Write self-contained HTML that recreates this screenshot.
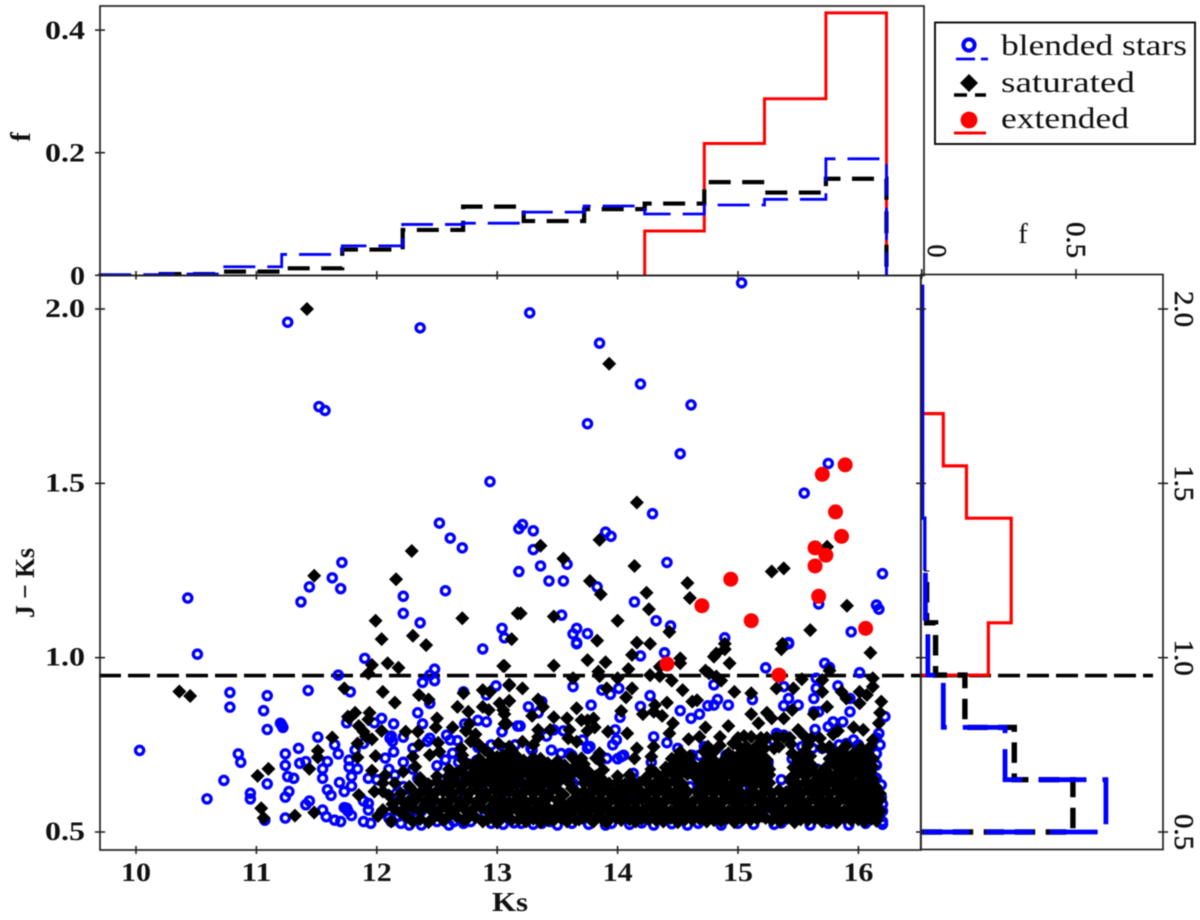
<!DOCTYPE html>
<html lang="en">
<head>
<meta charset="utf-8">
<title>Ks vs J-Ks scatter with marginal histograms</title>
<style>
html,body{margin:0;padding:0;background:#fff;}
#chart{display:block;width:1200px;height:920px;filter:blur(0.45px);}
text{font-family:"Liberation Serif",serif;fill:#111;}
</style>
</head>
<body>
<svg id="chart" xmlns="http://www.w3.org/2000/svg" width="1200" height="920" viewBox="0 0 1200 920">
  <rect x="0" y="0" width="1200" height="920" fill="#fff"/>
  <g id="threshold"></g>
  <g id="blended"></g>
  <g id="saturated"></g>
  <g id="extended"></g>
  <g id="topHist"></g>
  <g id="rightHist"></g>
  <rect x="100" y="6" width="824" height="269.5" fill="none" stroke="#222" stroke-width="1.7"/>
  <rect x="100" y="275.5" width="820.7" height="574.5" fill="none" stroke="#222" stroke-width="1.7"/>
  <rect x="921" y="274.5" width="242" height="575" fill="none" stroke="#222" stroke-width="1.7"/>
  <g id="axes"></g>
  <text x="510" y="911" text-anchor="middle" font-size="27" font-weight="bold" textLength="36" lengthAdjust="spacingAndGlyphs">Ks</text>
  <text transform="translate(34,583) rotate(-90)" text-anchor="middle" font-size="27" font-weight="bold" textLength="70" lengthAdjust="spacingAndGlyphs">J − Ks</text>
  <text transform="translate(30,137) rotate(-90)" text-anchor="middle" font-size="28" font-weight="bold">f</text>
  <text x="1023" y="243" text-anchor="middle" font-size="29">f</text>
  <g>
    <rect x="935" y="22.5" width="260" height="121.5" fill="#fff" stroke="#111" stroke-width="2"/>
    <circle cx="969" cy="45" r="5.6" fill="none" stroke="#0000ff" stroke-width="4"/>
    <line x1="956" y1="59" x2="988" y2="59" stroke="#0000ff" stroke-width="2.8" stroke-dasharray="19 6"/>
    <text x="1001" y="55" font-size="30" textLength="186" lengthAdjust="spacingAndGlyphs">blended stars</text>
    <polygon points="969,74 978,83 969,92 960,83" fill="#000"/>
    <line x1="954" y1="95" x2="986" y2="95" stroke="#000" stroke-width="3.5" stroke-dasharray="13 8"/>
    <text x="1001" y="92" font-size="30" textLength="134" lengthAdjust="spacingAndGlyphs">saturated</text>
    <circle cx="969" cy="120" r="8.4" fill="#ff0000"/>
    <line x1="954" y1="133" x2="986" y2="133" stroke="#ff0000" stroke-width="3"/>
    <text x="1001" y="128" font-size="30" textLength="128" lengthAdjust="spacingAndGlyphs">extended</text>
  </g>
</svg>
<script>
// ---- Data ----
const ksTicks = [10, 11, 12, 13, 14, 15, 16];
const ksTickLabels = ['10', '11', '12', '13', '14', '15', '16'];
const colorTicks = [0.5, 1.0, 1.5, 2.0];
const colorTickLabels = ['0.5', '1.0', '1.5', '2.0'];
const topFTicks = [0, 0.2, 0.4];
const topFTickLabels = ['0', '0.2', '0.4'];
const rightFTicks = [0, 0.5];
const rightFTickLabels = ['0', '0.5'];
const colorCut = [0.95];

const ksBinEdges = [9.70, 10.205, 10.708, 11.21, 11.713, 12.215, 12.717, 13.22, 13.722, 14.225, 14.72, 15.22, 15.73, 16.233];
const topBlended = [0.001, 0.002, 0.014, 0.034, 0.048, 0.083, 0.085, 0.103, 0.113, 0.1, 0.1147, 0.124, 0.19];
const topSaturated = [0, 0.002, 0.006, 0.0114, 0.042, 0.074, 0.112, 0.0885, 0.108, 0.117, 0.152, 0.135, 0.1575];
const topExtended = [0, 0, 0, 0, 0, 0, 0, 0, 0, 0.0723, 0.215, 0.288, 0.428];

const colorBinEdges = [0.5, 0.65, 0.8, 0.95, 1.1, 1.25, 1.4, 1.55, 1.7, 1.85, 2.0, 2.07];
const rightBlended = [0.597, 0.27, 0.07, 0.02, 0.012];
const rightBlendedTail = [0.01, 0.003, 0.003, 0.003, 0.003, 0.003];
const rightSaturated = [0.49, 0.30, 0.14, 0.045, 0.016];
const rightExtended = [0, 0, 0, 0.216, 0.29, 0.29, 0.145, 0.07, 0, 0, 0];

const extendedPoints = [[15.89,1.553],[15.70,1.526],[15.81,1.418],[15.86,1.348],[15.64,1.315],[15.73,1.294],[15.64,1.263],[14.94,1.225],[15.67,1.176],[14.70,1.149],[15.11,1.106],[16.06,1.084],[14.41,0.982],[15.34,0.95]];

const blendedPoints = [
[11.26,1.962],[12.36,1.946],[11.52,1.72],[11.57,1.709],[10.43,1.171],[12.94,1.505],[12.52,1.386],[12.61,1.343],[12.71,1.315],[11.71,1.273],[11.63,1.229],[11.70,1.198],[11.44,1.203],[11.37,1.16],[12.57,1.192],[12.22,1.176],[12.22,1.127],[12.36,1.10],[13.04,1.084],[13.06,1.057],
[13.27,1.989],[13.85,1.902],[14.19,1.785],[13.75,1.671],[14.61,1.725],[15.03,2.075],[14.52,1.585],[15.75,1.557],[15.55,1.472],[14.29,1.413],[13.21,1.382],[13.18,1.37],[13.30,1.364],[13.30,1.31],[13.18,1.247],[13.36,1.263],[13.58,1.268],[13.43,1.22],[13.55,1.22],[13.90,1.36],[13.945,1.348],[14.41,1.273],[13.83,1.203],[14.14,1.16],[14.32,1.106],[14.44,1.091],[13.535,1.122],[13.66,1.084],[13.63,1.068],[13.75,1.069],[13.66,1.043],[14.89,1.057],[15.42,1.043],[15.94,1.074],[16.15,1.151],[16.17,1.139],[16.20,1.241],[15.67,1.154],
[10.51,1.01],[10.03,0.734],[10.78,0.90],[10.78,0.858],[11.09,0.891],[11.06,0.848],[11.09,0.794],[11.21,0.807],[11.22,0.80],[11.20,0.812],[11.43,0.906],[10.85,0.724],[10.87,0.70],[10.73,0.648],[10.59,0.595],[11.35,0.74],[11.51,0.772],[11.24,0.724],[11.24,0.691],[11.36,0.697],[11.41,0.702],[11.65,0.75],[11.68,0.724],[11.59,0.702],[11.55,0.681],[11.55,0.654],[11.26,0.659],[11.31,0.654],[11.77,0.706],[11.77,0.686],[11.84,0.681],[11.79,0.659],[11.79,0.632],[11.69,0.642],[11.73,0.616],[11.59,0.621],[11.62,0.605],[10.95,0.611],[10.95,0.595],[11.09,0.638],[11.27,0.616],[11.24,0.60],[11.44,0.589],[11.41,0.578],[11.55,0.563],[11.58,0.544],[11.65,0.534],[11.70,0.53],[11.79,0.547],[11.75,0.568],[11.76,0.56],[11.73,0.57],[11.89,0.53],[11.95,0.525],[11.07,0.534],[11.24,0.54],[11.93,0.563],[11.93,0.582],[11.89,0.589],[11.78,0.902],[11.68,0.95],[11.90,0.998],[12.48,0.967],[12.44,0.95],[12.38,0.929],[12.48,0.934],[12.44,0.869],[12.34,0.842],[12.04,0.826],[12.14,0.81],[12.38,0.81],[11.75,0.813],[11.98,0.813],[12.44,0.769],[12.11,0.769],[12.12,0.775],[12.13,0.76],[12.22,0.772],[12.14,0.73],[12.07,0.712],[11.82,0.735],[11.89,0.754],[12.10,0.68],[11.93,0.654],[12.0,0.65],[12.15,0.663],[12.88,1.025],[12.99,0.919],[12.72,0.902],[12.91,0.893],[12.91,0.816],[12.84,0.82],[12.73,0.81],[13.04,0.788],[13.17,0.804],[12.58,0.778],[12.67,0.762],[12.61,0.764],[12.84,0.743],[12.95,0.75],[13.06,0.74],[13.07,0.735],[13.15,0.75],[12.57,0.707],[12.63,0.726],[12.68,0.70],[12.76,0.695],[12.83,0.705],[12.34,0.654],[12.53,0.65],[12.16,0.61],[12.12,0.53],[12.10,0.54],[12.18,0.545],[12.2,0.525],[12.27,0.52],[12.37,0.52],[12.6,0.52],[12.64,0.53],[12.72,0.525],[12.47,0.56],[12.51,0.58],[12.37,0.56],
[13.66,1.04],[14.39,1.014],[14.19,1.005],[15.42,1.04],[15.23,0.971],[15.72,0.984],[15.76,0.972],[16.01,0.957],[15.83,0.919],[15.65,0.941],[15.65,0.912],[15.63,0.883],[15.38,0.917],[15.42,0.883],[15.38,0.862],[15.50,0.864],[14.80,0.922],[13.63,0.917],[13.87,0.907],[13.94,0.895],[14.01,0.912],[14.27,0.891],[14.19,0.86],[13.78,0.864],[14.52,0.848],[14.61,0.826],[14.68,0.838],[14.75,0.862],[14.80,0.864],[14.83,0.88],[14.92,0.864],[13.26,0.859],[13.34,0.842],[13.37,0.874],[14.02,0.829],[15.12,0.88],[13.19,0.804],[13.04,0.788],[13.55,0.79],[13.41,0.775],[13.47,0.793],[13.98,0.793],[13.99,0.764],[13.71,0.764],[14.30,0.773],[14.41,0.756],[15.64,0.794],[15.79,0.816],[15.87,0.816],[15.93,0.845],[15.93,0.883],[15.67,0.845],[15.63,0.845],[16.22,0.831],[16.17,0.783],[15.75,0.802],[15.32,0.783],[15.38,0.778],[15.24,0.75],[15.53,0.745],[15.90,0.754],[15.96,0.764],[16.0,0.75],[15.94,0.735],[13.15,0.75],[13.06,0.74],[13.29,0.735],[13.28,0.74],[13.45,0.735],[13.53,0.725],[13.60,0.725],[13.77,0.745],[13.75,0.74],[14.03,0.716],[14.05,0.72],[14.0,0.71],[13.91,0.711],[14.13,0.668],[16.15,0.725],[16.15,0.692],[16.15,0.654],[16.19,0.635],[16.19,0.60],[16.2,0.58],[16.2,0.56],[16.2,0.53],[16.18,0.75],[16.15,0.77],
[13.05,0.522],[13.14,0.526],[13.3,0.522],[13.37,0.525],[13.5,0.52],[13.62,0.525],[13.76,0.522],[13.9,0.52],[13.95,0.525],[14.1,0.522],[14.2,0.526],[14.3,0.52],[14.45,0.524],[14.58,0.52],[14.67,0.525],[14.86,0.52],[15.0,0.525],[15.13,0.522],[15.3,0.522],[15.36,0.526],[15.6,0.52],[15.75,0.525],[15.92,0.52],[16.06,0.525],[16.2,0.522],
[14.6,0.63],[14.8,0.67],[13.63,0.64],[13.78,0.58],[15.36,0.65],[13.3,0.69],[13.4,0.62],[14.1,0.60],[14.95,0.60],[15.1,0.63],[15.5,0.60],[15.25,0.57],[15.85,0.62],[14.42,0.61],[13.05,0.66],[12.9,0.61],[14.28,0.70],[14.68,0.72],[13.55,0.56],[15.66,0.68],[15.45,0.71],[15.92,0.70],[14.9,0.72],[15.25,0.70],
[12.25,0.60],[12.3,0.68],[12.4,0.64],[12.45,0.60],[12.55,0.62],[12.6,0.66],[12.7,0.64],[12.75,0.60],[12.85,0.66],[12.95,0.68],[13.1,0.60],[13.2,0.64],[13.35,0.66],[12.3,0.74],[12.5,0.69],[12.42,0.76],[12.22,0.70],[12.18,0.58],[12.3,0.56],[12.22,0.63],[12.5,0.53],[12.62,0.56],[12.78,0.53],[12.95,0.525],[13.2,0.525],[13.44,0.53],[12.9,0.55],[13.12,0.57],[13.62,0.72],[13.96,0.75],[14.5,0.74],[14.62,0.72],[14.72,0.745],[15.15,0.735],[15.62,0.74],[15.7,0.74],[15.84,0.75]
];

const saturatedPoints = [
[11.42,2.0],[11.48,1.235],[12.29,1.306],[12.16,1.225],[11.99,1.106],[12.04,1.053],[12.30,1.063],[12.71,1.113],[12.41,1.036],[13.12,1.053],[13.17,1.127],
[13.93,1.843],[14.16,1.445],[13.36,1.321],[13.55,1.284],[13.85,1.338],[14.14,1.263],[14.58,1.214],[15.28,1.247],[15.38,1.256],[15.74,1.318],[13.77,1.22],[13.86,1.182],[14.24,1.186],[14.60,1.171],[14.26,1.139],[13.195,1.127],[13.47,1.118],[14.00,1.106],[14.43,1.074],[15.905,1.149],[15.60,1.079],[13.83,1.049],[14.16,1.043],[14.27,1.04],[14.89,1.04],[15.37,1.04],
[10.36,0.903],[10.45,0.89],[11.01,0.661],[11.10,0.681],[11.04,0.568],[11.06,0.54],[11.32,0.547],[11.48,0.556],[11.44,0.681],[11.51,0.733],[11.51,0.714],[11.63,0.771],[11.73,0.912],[11.84,0.714],[11.84,0.754],[11.82,0.842],[11.76,0.831],[11.77,0.826],[11.94,0.842],[11.93,0.823],[11.85,0.804],[11.89,0.788],[11.91,0.774],[11.96,0.766],[12.04,0.79],[11.99,0.718],[11.96,0.676],[11.85,0.606],[11.98,0.616],[12.07,0.663],[12.05,0.64],[12.05,0.616],[12.05,0.563],[12.01,0.546],[12.15,0.871],[12.05,0.902],[11.96,0.979],[11.93,0.955],[12.09,0.984],[12.18,0.971],[12.35,0.893],[12.43,0.88],[12.50,0.826],[12.49,0.80],[12.24,0.788],[12.34,0.788],[12.35,0.75],[12.44,0.721],[12.51,0.756],[12.52,0.73],[12.30,0.716],[12.32,0.687],[12.22,0.673],[12.15,0.64],[12.72,0.898],[12.67,0.859],[12.76,0.845],[12.63,0.80],[12.88,0.907],[12.94,0.902],[12.88,0.859],[12.93,0.85],[13.02,0.869],[13.10,0.876],[13.06,0.838],[13.08,0.81],[13.05,0.976],[13.10,0.92],[13.01,0.754],[12.77,0.81],[12.74,0.79],[12.82,0.78],[12.78,0.76],[12.70,0.74],[12.71,0.72],[12.85,0.75],[12.9,0.735],[12.95,0.72],[13.05,0.72],[13.12,0.735],
[14.12,1.008],[14.52,0.998],[14.52,0.984],[14.80,1.003],[14.89,1.024],[14.82,1.012],[15.36,1.024],[16.10,1.014],[13.06,0.976],[13.47,0.977],[13.75,0.993],[13.90,0.987],[13.84,0.96],[13.85,0.947],[14.09,0.967],[14.0,0.941],[13.63,0.941],[14.27,0.95],[14.35,0.947],[14.45,0.934],[14.35,0.974],[14.93,0.984],[14.73,0.963],[14.82,0.946],[14.86,0.934],[14.76,0.955],[14.97,0.902],[15.11,0.898],[15.53,0.938],[15.46,0.912],[15.32,0.912],[15.76,0.963],[15.70,0.936],[15.70,0.902],[16.12,0.941],[16.12,0.917],[16.01,0.902],[16.07,0.893],[15.86,0.902],[15.90,0.883],[16.01,0.869],[16.19,0.874],[15.74,0.859],[16.18,0.842],[16.17,0.812],[13.10,0.923],[13.21,0.912],[13.91,0.912],[14.12,0.912],[14.07,0.886],[14.54,0.907],[13.10,0.876],[13.34,0.88],[13.38,0.859],[13.66,0.855],[14.03,0.847],[14.41,0.871],[14.31,0.864],[14.21,0.838],[14.30,0.845],[14.37,0.833],[14.66,0.878],[14.62,0.874],[15.11,0.838],[15.24,0.842],[15.28,0.826],[15.17,0.812],[15.38,0.826],[15.63,0.838],[15.45,0.85],[14.46,0.812],[14.43,0.783],[14.92,0.804],[14.73,0.80],[14.68,0.773],[14.59,0.766],[14.85,0.773],[14.96,0.754],[13.70,0.821],[13.80,0.826],[13.75,0.82],[13.81,0.80],[13.75,0.79],[13.58,0.826],[13.47,0.829],[13.29,0.833],[13.44,0.793],[13.34,0.793],[13.34,0.773],[13.60,0.793],[13.59,0.769],[13.66,0.759],[13.92,0.788],[14.08,0.783],[13.21,0.759],[13.05,0.85],[13.06,0.81],[14.16,0.74],[14.30,0.745],[14.28,0.716],[14.14,0.711],[13.85,0.726],[13.70,0.711],[15.11,0.773],[15.19,0.77],[15.24,0.77],[15.32,0.772],[15.38,0.772],[15.50,0.793],[15.61,0.769],[15.68,0.769],[15.79,0.78],[15.83,0.79],[15.96,0.80],[16.04,0.793],[16.12,0.764],[15.07,0.745],[15.45,0.725],[15.53,0.715],[15.44,0.752],
[12.12,0.53],[12.3,0.53],[12.43,0.528],[12.58,0.54],[12.72,0.534],[12.88,0.53],[13.0,0.527],[13.12,0.535],[13.24,0.53],[13.36,0.528],[13.47,0.534],[13.58,0.53],[13.68,0.536],[13.8,0.53],[13.91,0.528],[14.03,0.534],[14.15,0.53],[14.26,0.536],[14.38,0.53],[14.5,0.528],[14.62,0.535],[14.74,0.53],[14.86,0.532],[14.97,0.528],[15.1,0.534],[15.23,0.54],[15.35,0.53],[15.47,0.528],[15.58,0.534],[15.7,0.53],[15.82,0.528],[15.94,0.534],[16.05,0.53],[16.15,0.532],
[12.2,0.555],[12.36,0.56],[12.5,0.552],[12.63,0.558],[12.77,0.555],[12.92,0.56],[13.05,0.552],[13.18,0.558],[13.3,0.555],[13.42,0.56],[13.53,0.552],[13.63,0.56],[13.74,0.555],[13.86,0.558],[13.97,0.552],[14.09,0.56],[14.2,0.555],[14.32,0.558],[14.44,0.552],[14.56,0.56],[14.68,0.555],[14.8,0.558],[14.91,0.552],[15.04,0.56],[15.16,0.555],[15.29,0.565],[15.41,0.552],[15.52,0.558],[15.64,0.555],[15.76,0.56],[15.88,0.552],[16.0,0.558],[16.1,0.555],[16.18,0.56],
[12.13,0.58],[12.26,0.585],[12.4,0.578],[12.55,0.582],[12.7,0.58],[12.83,0.585],[12.98,0.578],[13.1,0.582],[13.24,0.58],[13.36,0.584],[13.55,0.578],[13.6,0.582],[13.7,0.585],[13.8,0.578],[13.92,0.582],[14.03,0.58],[14.15,0.585],[14.27,0.578],[14.38,0.582],[14.5,0.58],[14.62,0.584],[14.74,0.578],[14.86,0.582],[14.98,0.58],[15.1,0.585],[15.22,0.578],[15.35,0.582],[15.46,0.58],[15.58,0.585],[15.7,0.578],[15.82,0.582],[15.94,0.58],[16.05,0.585],[16.15,0.58],
[12.1,0.605],[12.2,0.61],[12.33,0.603],[12.47,0.607],[12.62,0.605],[12.76,0.61],[12.9,0.603],[13.04,0.607],[13.17,0.605],[13.3,0.61],[13.42,0.603],[13.55,0.607],[13.74,0.605],[13.86,0.61],[13.97,0.603],[14.09,0.607],[14.2,0.605],[14.32,0.61],[14.44,0.603],[14.56,0.607],[14.68,0.605],[14.8,0.61],[14.92,0.603],[15.04,0.607],[15.16,0.605],[15.28,0.61],[15.4,0.603],[15.52,0.607],[15.64,0.605],[15.76,0.61],[15.88,0.603],[16.0,0.607],[16.1,0.605],[16.18,0.61],
[12.27,0.63],[12.42,0.635],[12.57,0.628],[12.7,0.632],[12.84,0.63],[12.98,0.635],[13.1,0.628],[13.24,0.632],[13.36,0.63],[13.48,0.635],[13.62,0.625],[13.8,0.632],[13.92,0.63],[14.03,0.635],[14.15,0.628],[14.27,0.632],[14.38,0.63],[14.5,0.635],[14.74,0.628],[14.86,0.632],[14.98,0.63],[15.1,0.615],[15.22,0.628],[15.46,0.63],[15.58,0.635],[15.7,0.628],[15.82,0.632],[15.94,0.63],[16.05,0.635],[16.15,0.628],
[12.36,0.655],[12.5,0.66],[12.64,0.653],[12.78,0.657],[12.9,0.655],[13.02,0.66],[13.15,0.653],[13.28,0.657],[13.4,0.655],[13.5,0.66],[13.62,0.665],[13.74,0.657],[13.86,0.655],[14.0,0.66],[14.12,0.645],[14.24,0.657],[14.36,0.655],[14.48,0.66],[14.7,0.653],[14.85,0.645],[14.97,0.655],[15.08,0.66],[15.2,0.653],[15.44,0.655],[15.56,0.66],[15.68,0.653],[15.8,0.657],[15.92,0.655],[16.03,0.66],[16.12,0.653],
[12.6,0.68],[12.72,0.685],[12.85,0.678],[12.97,0.682],[13.08,0.68],[13.2,0.685],[13.33,0.678],[13.44,0.682],[13.56,0.68],[13.68,0.685],[13.88,0.678],[14.28,0.68],[14.4,0.685],[14.52,0.678],[14.64,0.682],[14.76,0.68],[14.9,0.685],[15.02,0.678],[15.14,0.682],[15.26,0.68],[15.46,0.685],[15.58,0.678],[15.72,0.682],[15.84,0.68],[15.96,0.685],[16.08,0.678],
[12.72,0.705],[12.85,0.71],[12.98,0.703],[13.1,0.707],[13.22,0.705],[13.36,0.71],[13.5,0.703],[13.65,0.707],[13.85,0.705],[14.45,0.71],[14.55,0.703],[14.75,0.707],[14.88,0.705],[15.0,0.71],[15.12,0.703],[15.24,0.707],[15.5,0.705],[15.76,0.71],[15.86,0.703],[15.96,0.707],[16.04,0.705],[16.12,0.71],
[12.25,0.543],[12.47,0.54],[12.66,0.545],[12.82,0.542],[12.98,0.545],[13.1,0.54],[13.25,0.544],[13.36,0.542],[13.48,0.546],[13.6,0.543],[13.71,0.54],[13.83,0.545],[13.93,0.542],[14.05,0.546],[14.14,0.543],[14.27,0.54],[14.38,0.545],[14.5,0.542],[14.62,0.546],[14.74,0.543],[14.85,0.54],[14.97,0.545],[15.1,0.542],[15.2,0.546],[15.33,0.543],[15.46,0.54],[15.58,0.545],[15.7,0.542],[15.82,0.546],[15.94,0.543],[16.06,0.54],[16.16,0.545],
[12.14,0.568],[12.3,0.57],[12.44,0.566],[12.58,0.57],[12.72,0.568],[12.86,0.572],[13.0,0.566],[13.13,0.57],[13.25,0.568],[13.38,0.572],[13.48,0.566],[13.6,0.57],[13.68,0.568],[13.8,0.572],[13.92,0.566],[14.03,0.57],[14.15,0.568],[14.27,0.572],[14.38,0.566],[14.5,0.57],[14.62,0.568],[14.74,0.572],[14.86,0.566],[14.98,0.57],[15.1,0.568],[15.22,0.572],[15.35,0.566],[15.47,0.57],[15.58,0.568],[15.7,0.572],[15.82,0.566],[15.94,0.57],[16.05,0.568],[16.15,0.572],
[12.2,0.593],[12.33,0.595],[12.48,0.591],[12.62,0.595],[12.76,0.593],[12.9,0.597],[13.04,0.591],[13.17,0.595],[13.3,0.593],[13.42,0.597],[13.63,0.591],[13.74,0.595],[13.86,0.593],[13.97,0.597],[14.09,0.591],[14.2,0.595],[14.32,0.593],[14.44,0.597],[14.56,0.591],[14.68,0.595],[14.8,0.593],[14.92,0.597],[15.04,0.591],[15.16,0.595],[15.28,0.593],[15.4,0.597],[15.52,0.591],[15.64,0.595],[15.76,0.593],[15.88,0.597],[16.0,0.591],[16.1,0.595],[16.18,0.593],
[12.3,0.618],[12.42,0.62],[12.55,0.616],[12.7,0.62],[12.84,0.618],[12.98,0.622],[13.1,0.616],[13.24,0.62],[13.36,0.618],[13.5,0.622],[13.72,0.616],[13.8,0.62],[13.92,0.618],[14.03,0.622],[14.15,0.616],[14.27,0.62],[14.38,0.618],[14.5,0.622],[14.66,0.616],[14.74,0.62],[14.86,0.618],[14.98,0.622],[15.22,0.616],[15.34,0.62],[15.46,0.618],[15.58,0.622],[15.7,0.616],[15.82,0.62],[15.94,0.618],[16.05,0.622],[16.15,0.616],
[12.36,0.643],[12.5,0.645],[12.64,0.641],[12.78,0.645],[12.9,0.643],[13.02,0.647],[13.15,0.641],[13.28,0.645],[13.4,0.643],[13.52,0.647],[13.72,0.641],[13.86,0.645],[14.0,0.643],[14.24,0.645],[14.36,0.643],[14.48,0.647],[14.68,0.641],[14.8,0.645],[14.97,0.643],[15.08,0.647],[15.2,0.641],[15.44,0.645],[15.56,0.643],[15.68,0.647],[15.8,0.641],[15.92,0.645],[16.03,0.643],[16.12,0.647],
[12.66,0.668],[12.8,0.67],[12.92,0.666],[13.02,0.67],[13.14,0.668],[13.26,0.672],[13.38,0.666],[13.5,0.67],[13.62,0.668],[13.76,0.672],[14.32,0.668],[14.46,0.67],[14.58,0.666],[14.7,0.67],[14.83,0.668],[14.96,0.672],[15.08,0.666],[15.2,0.67],[15.5,0.668],[15.64,0.67],[15.76,0.666],[15.88,0.67],[16.0,0.668],[16.1,0.672],
[12.8,0.693],[12.92,0.695],[13.04,0.691],[13.16,0.695],[13.28,0.693],[13.42,0.697],[13.56,0.691],[13.72,0.695],[14.5,0.693],[14.62,0.695],[14.7,0.691],[14.82,0.695],[14.94,0.693],[15.06,0.697],[15.18,0.691],[15.56,0.693],[15.8,0.695],[15.9,0.691],[16.0,0.695],[16.08,0.693],
[13.12,0.72],[14.52,0.73],[14.72,0.73],[14.8,0.73],[14.92,0.725],[15.02,0.725],[15.14,0.73],[15.55,0.73],[15.78,0.73],[15.86,0.735],[15.96,0.725],[16.06,0.73],
[12.36,0.537],[12.55,0.534],[12.75,0.538],[12.92,0.536],[13.04,0.54],[13.18,0.536],[13.3,0.538],[13.42,0.534],[13.53,0.54],[13.65,0.536],[13.77,0.538],[13.88,0.534],[13.99,0.54],[14.1,0.536],[14.2,0.538],[14.32,0.534],[14.44,0.54],[14.56,0.536],[14.68,0.538],[14.8,0.534],[14.91,0.54],[15.04,0.536],[15.16,0.538],[15.28,0.534],[15.41,0.54],[15.52,0.536],[15.64,0.538],[15.76,0.534],[15.88,0.54],[16.0,0.536],[16.11,0.538],
[12.22,0.562],[12.37,0.564],[12.51,0.56],[12.65,0.564],[12.79,0.562],[12.93,0.566],[13.06,0.56],[13.19,0.564],[13.31,0.562],[13.43,0.566],[13.54,0.56],[13.64,0.564],[13.74,0.562],[13.86,0.566],[13.98,0.56],[14.09,0.564],[14.21,0.562],[14.33,0.566],[14.44,0.56],[14.56,0.564],[14.68,0.562],[14.8,0.566],[14.92,0.56],[15.04,0.564],[15.16,0.562],[15.28,0.566],[15.41,0.56],[15.53,0.564],[15.64,0.562],[15.76,0.566],[15.88,0.56],[16.0,0.564],[16.1,0.562],
[12.26,0.587],[12.41,0.589],[12.55,0.585],[12.69,0.589],[12.83,0.587],[12.97,0.591],[13.1,0.585],[13.23,0.589],[13.36,0.587],[13.5,0.591],[13.68,0.585],[13.8,0.589],[13.92,0.587],[14.03,0.591],[14.15,0.585],[14.26,0.589],[14.38,0.587],[14.5,0.591],[14.62,0.585],[14.74,0.589],[14.86,0.587],[14.98,0.591],[15.1,0.585],[15.22,0.589],[15.34,0.587],[15.46,0.591],[15.58,0.585],[15.7,0.589],[15.82,0.587],[15.94,0.591],[16.05,0.585],[16.14,0.589],
[12.36,0.612],[12.49,0.614],[12.63,0.61],[12.77,0.614],[12.91,0.612],[13.04,0.616],[13.17,0.61],[13.3,0.614],[13.43,0.612],[13.66,0.614],[13.76,0.61],[13.86,0.614],[13.98,0.612],[14.09,0.616],[14.21,0.61],[14.33,0.614],[14.44,0.612],[14.58,0.616],[14.7,0.61],[14.8,0.614],[14.92,0.612],[15.1,0.604],[15.28,0.61],[15.4,0.614],[15.52,0.612],[15.64,0.616],[15.76,0.61],[15.88,0.614],[16.0,0.612],[16.1,0.616],
[12.43,0.637],[12.57,0.639],[12.71,0.635],[12.84,0.639],[12.96,0.637],[13.08,0.641],[13.22,0.635],[13.34,0.639],[13.46,0.637],[13.6,0.641],[13.79,0.635],[13.93,0.639],[14.06,0.637],[14.18,0.641],[14.3,0.635],[14.42,0.639],[14.54,0.637],[14.76,0.639],[14.9,0.635],[15.02,0.639],[15.14,0.637],[15.26,0.641],[15.5,0.635],[15.62,0.639],[15.74,0.637],[15.86,0.641],[15.98,0.635],[16.08,0.639],
[12.6,0.662],[12.73,0.664],[12.86,0.66],[12.97,0.664],[13.08,0.662],[13.2,0.666],[13.32,0.66],[13.44,0.664],[13.56,0.662],[13.69,0.666],[13.82,0.66],[14.1,0.664],[14.38,0.662],[14.52,0.666],[14.64,0.66],[14.76,0.664],[14.9,0.662],[15.02,0.666],[15.14,0.66],[15.26,0.664],[15.56,0.662],[15.7,0.666],[15.82,0.66],[15.94,0.664],[16.05,0.662],
[12.86,0.687],[12.98,0.689],[13.1,0.685],[13.22,0.689],[13.35,0.687],[13.49,0.691],[13.64,0.685],[14.45,0.689],[14.56,0.687],[14.76,0.691],[14.88,0.685],[15.0,0.689],[15.12,0.687],[15.24,0.691],[15.5,0.685],[15.62,0.689],[15.74,0.687],[15.85,0.691],[15.95,0.685],[16.04,0.689],[16.12,0.687],
[13.0,0.715],[13.16,0.718],[13.3,0.712],[13.62,0.715],[13.82,0.712],[14.5,0.715],[14.6,0.718],[14.78,0.712],[14.96,0.715],[15.08,0.718],[15.2,0.712],[15.52,0.715],[15.6,0.718],[15.82,0.712],[15.9,0.715],[16.0,0.718],[16.1,0.712],
[14.75,0.745],[14.85,0.748],[15.02,0.742],[15.15,0.745],[15.22,0.74],[15.3,0.74],[15.34,0.745],[15.58,0.748],[15.7,0.742],[15.76,0.745],[15.9,0.748],[16.02,0.742],[16.1,0.745],[13.1,0.745],[13.3,0.75],
[15.0,0.77],[15.05,0.775],[15.43,0.77],[15.55,0.775]
];

// ---- Axis functions ----
function xKs(k) { return 136 + (k - 10) * 120.4; }
function yColor(v) { return 832 - (v - 0.5) * 348.67; }
function yTopF(f) { return 275.3 - f * 613; }
function xRightF(f) { return 921.7 + f * 308.6; }

const NS = 'http://www.w3.org/2000/svg';
function make(tag, parent) {
  const el = document.createElementNS(NS, tag);
  parent.appendChild(el);
  return el;
}

// ---- Threshold ----
const thresholdLayer = document.getElementById('threshold');
colorCut.forEach(function (c) {
  const el = make('line', thresholdLayer);
  
  
  el.setAttribute('x1', 99);
  el.setAttribute('x2', 1153);
  el.setAttribute('y1', yColor(c) + 0.5);
  el.setAttribute('y2', yColor(c) + 0.5);
  el.setAttribute('stroke', '#000');
  el.setAttribute('stroke-width', 3.6);
  el.setAttribute('stroke-dasharray', '22 7');
});

// ---- Points ----
const blendedLayer = document.getElementById('blended');
blendedPoints.forEach(function (p) {
  const el = make('circle', blendedLayer);
  
  
  el.setAttribute('cx', xKs(p[0]));
  el.setAttribute('cy', yColor(p[1]));
  el.setAttribute('r', 4.1);
  el.setAttribute('fill', 'none');
  el.setAttribute('stroke', '#0000ff');
  el.setAttribute('stroke-width', 3.3);
});
const saturatedLayer = document.getElementById('saturated');
saturatedPoints.forEach(function (p) {
  const cx = xKs(p[0]);
  const cy = yColor(p[1]);
  const el = make('polygon', saturatedLayer);
  
  
  el.setAttribute('points', cx + ',' + (cy - 7) + ' ' + (cx + 7) + ',' + cy + ' ' + cx + ',' + (cy + 7) + ' ' + (cx - 7) + ',' + cy);
  el.setAttribute('fill', '#000');
});
const extendedLayer = document.getElementById('extended');
extendedPoints.forEach(function (p) {
  const el = make('circle', extendedLayer);
  
  
  el.setAttribute('cx', xKs(p[0]));
  el.setAttribute('cy', yColor(p[1]));
  el.setAttribute('r', 7.5);
  el.setAttribute('fill', '#ff0000');
});

// ---- Histograms ----
function topPath(values) {
  let first = 0;
  while (first < values.length && values[first] === 0) { first++; }
  let d = 'M' + xKs(ksBinEdges[first]) + ' ' + yTopF(0);
  for (let i = first; i < values.length; i++) {
    d += 'L' + xKs(ksBinEdges[i]) + ' ' + yTopF(values[i]);
    d += 'L' + xKs(ksBinEdges[i + 1]) + ' ' + yTopF(values[i]);
  }
  d += 'L' + xKs(ksBinEdges[values.length]) + ' ' + yTopF(0);
  return d;
}
function rightPath(values) {
  let d = 'M' + xRightF(0) + ' ' + yColor(colorBinEdges[0]);
  let started = false;
  for (let i = 0; i < values.length; i++) {
    if (values[i] === 0 && !started) {
      d = 'M' + xRightF(0) + ' ' + yColor(colorBinEdges[i + 1]);
      continue;
    }
    started = true;
    d += 'L' + xRightF(values[i]) + ' ' + yColor(colorBinEdges[i]);
    d += 'L' + xRightF(values[i]) + ' ' + yColor(colorBinEdges[i + 1]);
  }
  return d;
}
function rightTailPath(values, firstBin) {
  let d = '';
  for (let i = 0; i < values.length; i++) {
    d += (i === 0 ? 'M' : 'L') + xRightF(values[i]) + ' ' + yColor(colorBinEdges[firstBin + i]);
    d += 'L' + xRightF(values[i]) + ' ' + yColor(colorBinEdges[firstBin + i + 1]);
  }
  return d;
}
const topLayer = document.getElementById('topHist');
const topRed = make('path', topLayer);


topRed.setAttribute('d', topPath(topExtended));
topRed.setAttribute('fill', 'none');
topRed.setAttribute('stroke', '#ff0000');
topRed.setAttribute('stroke-width', 3);
const topBlack = make('path', topLayer);


topBlack.setAttribute('d', topPath(topSaturated));
topBlack.setAttribute('fill', 'none');
topBlack.setAttribute('stroke', '#000');
topBlack.setAttribute('stroke-width', 4.2);
topBlack.setAttribute('stroke-dasharray', '22 11.5');
const topBlue = make('path', topLayer);


topBlue.setAttribute('d', topPath(topBlended));
topBlue.setAttribute('fill', 'none');
topBlue.setAttribute('stroke', '#0000ff');
topBlue.setAttribute('stroke-width', 2.8);
topBlue.setAttribute('stroke-dasharray', '32 12');

const rightLayer = document.getElementById('rightHist');
const rightRed = make('path', rightLayer);


rightRed.setAttribute('d', rightPath(rightExtended));
rightRed.setAttribute('fill', 'none');
rightRed.setAttribute('stroke', '#ff0000');
rightRed.setAttribute('stroke-width', 3.2);
const rightBlack = make('path', rightLayer);


rightBlack.setAttribute('d', rightPath(rightSaturated));
rightBlack.setAttribute('fill', 'none');
rightBlack.setAttribute('stroke', '#000');
rightBlack.setAttribute('stroke-width', 5.4);
rightBlack.setAttribute('stroke-dasharray', '20.5 10.5');
const rightBlue = make('path', rightLayer);


rightBlue.setAttribute('d', rightPath(rightBlended));
rightBlue.setAttribute('fill', 'none');
rightBlue.setAttribute('stroke', '#0000ff');
rightBlue.setAttribute('stroke-width', 4.8);
rightBlue.setAttribute('stroke-dasharray', '48 16');
const rightBlueTail = make('path', rightLayer);


rightBlueTail.setAttribute('d', rightTailPath(rightBlendedTail, rightBlended.length));
rightBlueTail.setAttribute('fill', 'none');
rightBlueTail.setAttribute('stroke', '#0000ff');
rightBlueTail.setAttribute('stroke-width', 3.4);

// ---- Axes ----
const axesLayer = document.getElementById('axes');
function tick(x1, y1, x2, y2, name) {
  const el = make('line', axesLayer);
  
  
  el.setAttribute('x1', x1);
  el.setAttribute('y1', y1);
  el.setAttribute('x2', x2);
  el.setAttribute('y2', y2);
  el.setAttribute('stroke', '#222');
  el.setAttribute('stroke-width', 1.6);
}
function boldLabel(str, x, y, anchor, len, name) {
  const el = make('text', axesLayer);
  
  
  el.setAttribute('x', x);
  el.setAttribute('y', y);
  el.setAttribute('text-anchor', anchor);
  el.setAttribute('font-size', 26);
  el.setAttribute('font-weight', 'bold');
  el.setAttribute('textLength', len);
  el.setAttribute('lengthAdjust', 'spacingAndGlyphs');
  el.textContent = str;
}
function rotatedLabel(str, x, y, len, name) {
  const el = make('text', axesLayer);
  
  
  el.setAttribute('transform', 'translate(' + x + ',' + y + ') rotate(90)');
  el.setAttribute('text-anchor', 'middle');
  el.setAttribute('font-size', 27);
  el.setAttribute('textLength', len);
  el.setAttribute('lengthAdjust', 'spacingAndGlyphs');
  el.setAttribute('stroke', '#111');
  el.setAttribute('stroke-width', 0.5);
  el.textContent = str;
}
ksTicks.forEach(function (k, i) {
  tick(xKs(k), 271, xKs(k), 279.5, 'top-panel-x-tick');
  tick(xKs(k), 846, xKs(k), 854, 'x-tick');
  boldLabel(ksTickLabels[i], xKs(k), 881, 'middle', 30, 'x-tick-label');
});
colorTicks.forEach(function (v, i) {
  const py = yColor(v);
  tick(95, py, 105, py, 'y-tick');
  tick(916, py, 926, py, 'right-panel-left-tick');
  tick(1158, py, 1168, py, 'right-panel-right-tick');
  boldLabel(colorTickLabels[i], 85, py + 8, 'end', 40, 'y-tick-label');
  rotatedLabel(colorTickLabels[i], 1175, py, 36, 'right-y-tick-label');
});
topFTicks.forEach(function (f, i) {
  const py = yTopF(f);
  tick(95, py, 105, py, 'top-panel-y-tick');
  boldLabel(topFTickLabels[i], 85, py + 9, 'end', f === 0 ? 15 : 40, 'top-panel-y-tick-label');
});
rightFTicks.forEach(function (f, i) {
  const px = xRightF(f);
  tick(px, 269, px, 279, 'right-panel-x-tick');
  rotatedLabel(rightFTickLabels[i], px + (f === 0 ? 6.5 : -9), f === 0 ? 251 : 240, f === 0 ? 13 : 36, 'right-panel-x-tick-label');
});
</script>
</body>
</html>
